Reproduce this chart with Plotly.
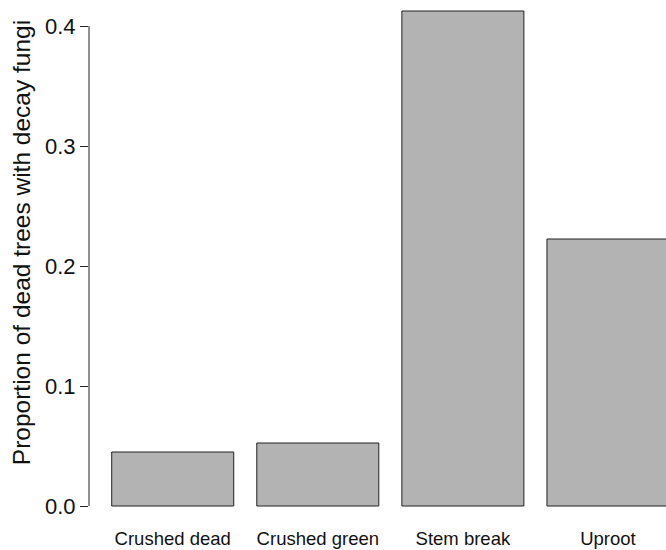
import plotly.graph_objects as go

categories = ["Crushed dead", "Crushed green", "Stem break", "Uproot"]
proportions = [0.045, 0.0525, 0.4125, 0.2225]
y_tick_values = [0.0, 0.1, 0.2, 0.3, 0.4]
y_tick_labels = ["0.0", "0.1", "0.2", "0.3", "0.4"]
y_title = "Proportion of dead trees with decay fungi"

FONT = "Liberation Sans, Arial, Helvetica, sans-serif"

fig = go.Figure(
    go.Bar(
        x=categories,
        y=proportions,
        marker=dict(color="#b3b3b3", line=dict(color="#222222", width=1)),
    )
)

fig.update_layout(
    width=666,
    height=550,
    margin=dict(l=89, r=0, t=0, b=40, autoexpand=False),
    paper_bgcolor="white",
    plot_bgcolor="white",
    bargap=0.159,
    showlegend=False,
    font=dict(family=FONT, color="#111111"),
    xaxis=dict(
        type="category",
        automargin=False,
        range=[-0.577, 3.40],
        showline=False,
        showgrid=False,
        zeroline=False,
        ticks="outside",
        ticklen=12,
        tickcolor="rgba(0,0,0,0)",
        tickfont=dict(size=18.5, family=FONT, color="#111111"),
    ),
    yaxis=dict(
        automargin=False,
        range=[-4 / 1200, 0.4 + 26 / 1200],
        tickvals=y_tick_values,
        ticktext=y_tick_labels,
        showline=False,
        showgrid=False,
        zeroline=False,
        ticks="outside",
        ticklen=8,
        tickwidth=1,
        tickcolor="#222222",
        tickfont=dict(size=22, family=FONT, color="#111111"),
    ),
    shapes=[
        dict(
            type="line",
            xref="paper",
            yref="y",
            x0=0,
            x1=0,
            y0=y_tick_values[0],
            y1=y_tick_values[-1],
            line=dict(color="#222222", width=1),
        )
    ],
    annotations=[
        dict(
            text=y_title,
            xref="paper",
            yref="y",
            x=(21 - 89) / 577,
            y=0.219,
            xanchor="center",
            yanchor="middle",
            textangle=-90,
            showarrow=False,
            font=dict(size=24.5, family=FONT, color="#111111"),
        )
    ],
)

fig.write_html(
    "out.html",
    config={"displayModeBar": False},
    post_script="document.body.style.margin='0';document.body.style.overflow='hidden';",
)
